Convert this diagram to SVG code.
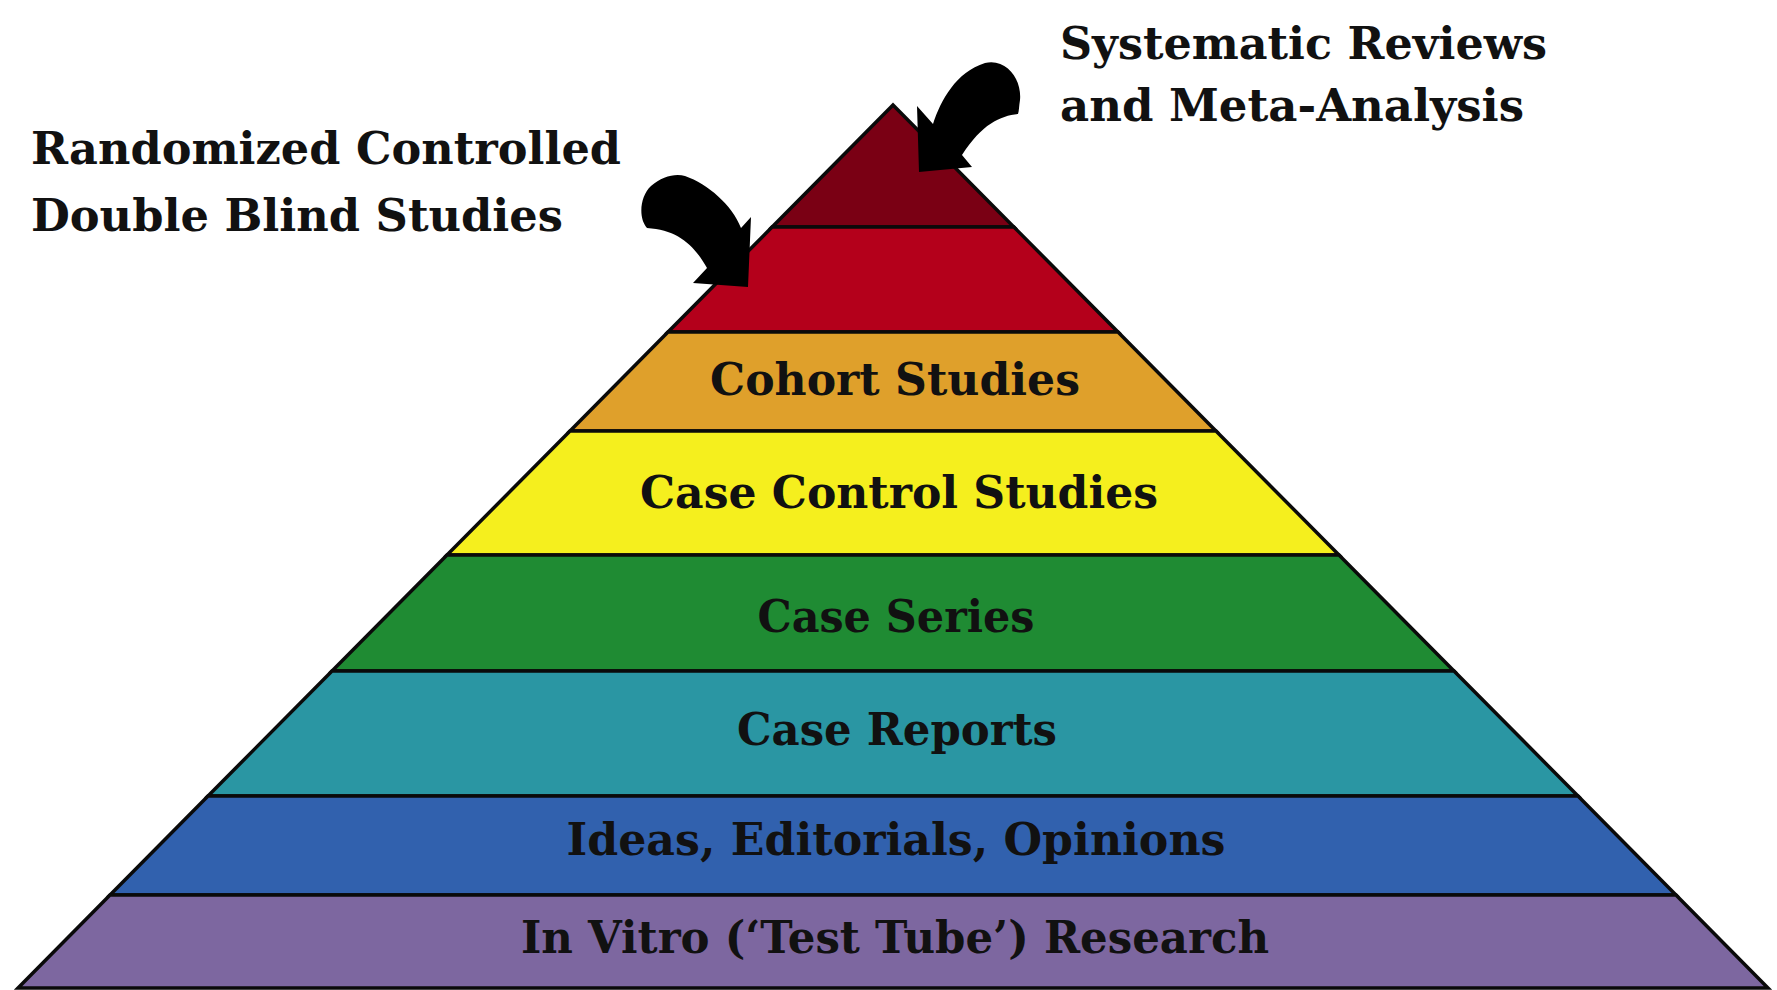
<svg xmlns="http://www.w3.org/2000/svg" width="1777" height="990" viewBox="0 0 1777 990">
<style>
.band{stroke:#0a0a0a;stroke-width:3.5;stroke-linejoin:miter}
.lbl{font-family:"DejaVu Serif","Liberation Serif",serif;font-weight:bold;font-size:44px;fill:#111;text-anchor:middle}
.side{font-family:"DejaVu Serif","Liberation Serif",serif;font-weight:bold;font-size:44px;fill:#111}
.arrow{fill:#000}
</style>
<rect width="1777" height="990" fill="#ffffff"/>
<g id="level-systematic-reviews">
<polygon class="band" fill="#7a0014" points="893,105 1013.9,227 772.1,227"/>
</g>
<g id="level-rct">
<polygon class="band" fill="#b4001b" points="772.1,227 1013.9,227 1118,332 668,332"/>
</g>
<g id="level-cohort">
<polygon class="band" fill="#dfa02b" points="668,332 1118,332 1216,431 570,431"/>
<text class="lbl" x="895" y="395" textLength="370" lengthAdjust="spacingAndGlyphs">Cohort Studies</text>
</g>
<g id="level-case-control">
<polygon class="band" fill="#f5ef1e" points="570,431 1216,431 1339,555 447,555"/>
<text class="lbl" x="899" y="508" textLength="518" lengthAdjust="spacingAndGlyphs">Case Control Studies</text>
</g>
<g id="level-case-series">
<polygon class="band" fill="#1f8b33" points="447,555 1339,555 1454,671 332,671"/>
<text class="lbl" x="896" y="632" textLength="277" lengthAdjust="spacingAndGlyphs">Case Series</text>
</g>
<g id="level-case-reports">
<polygon class="band" fill="#2a96a3" points="332,671 1454,671 1578,796 208,796"/>
<text class="lbl" x="897" y="745" textLength="320" lengthAdjust="spacingAndGlyphs">Case Reports</text>
</g>
<g id="level-ideas">
<polygon class="band" fill="#3161ae" points="208,796 1578,796 1676,895 110,895"/>
<text class="lbl" x="896" y="855" textLength="659" lengthAdjust="spacingAndGlyphs">Ideas, Editorials, Opinions</text>
</g>
<g id="level-in-vitro">
<polygon class="band" fill="#7d67a0" points="110,895 1676,895 1768,988 18,988"/>
<text class="lbl" x="895" y="953" textLength="748" lengthAdjust="spacingAndGlyphs">In Vitro (‘Test Tube’) Research</text>
</g>
<g id="label-rct">
<text class="side" x="31" y="164" textLength="590" lengthAdjust="spacingAndGlyphs">Randomized Controlled</text>
<text class="side" x="31" y="231" textLength="532" lengthAdjust="spacingAndGlyphs">Double Blind Studies</text>
</g>
<g id="label-systematic">
<text class="side" x="1060" y="59" textLength="487" lengthAdjust="spacingAndGlyphs">Systematic Reviews</text>
<text class="side" x="1060" y="121" textLength="464" lengthAdjust="spacingAndGlyphs">and Meta-Analysis</text>
</g>
<g id="connectors">
<path class="arrow" d="M 707,268 C 694,245 678,230 647,228 C 638,218 640,196 651,186 C 662,176 676,173 685,176 C 708,184 732,205 741,228 L 751,217 L 748,287 L 693,283 Z"/>
<path class="arrow" d="M 933,124 C 941,100 956,72 985,63 C 1007,58 1022,80 1020,100 C 1019,106 1019,111 1018,114 C 1000,116 982,124 962,155 L 972,167 L 919,172 L 917,106 Z"/>
</g>
</svg>
